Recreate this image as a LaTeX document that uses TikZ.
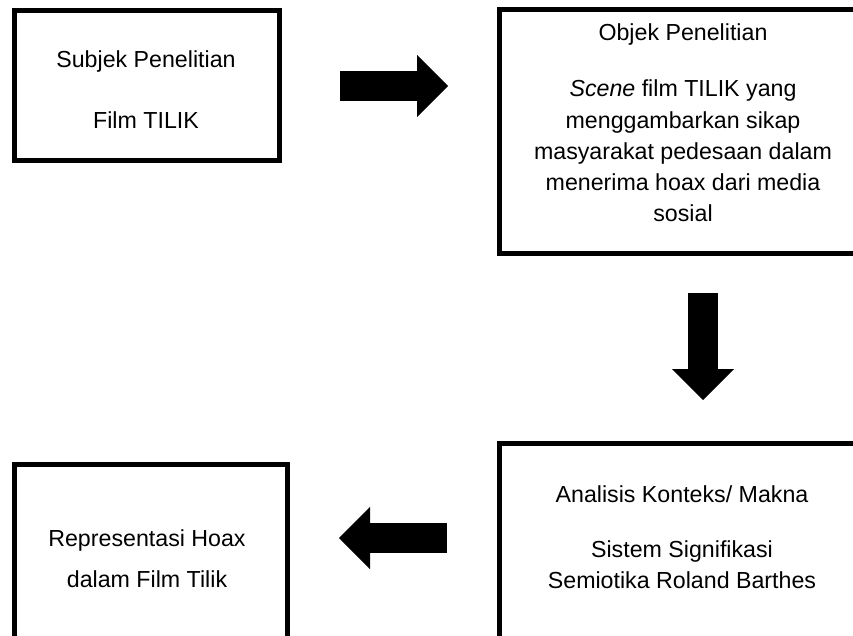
\documentclass[tikz,border=0pt]{standalone}
\usepackage{fontspec}
\setmainfont{Liberation Sans}
\usetikzlibrary{arrows.meta}
\begin{document}
\begin{tikzpicture}[x=1pt,y=-1pt,
  box/.style={draw=black, line width=5pt, rectangle, inner sep=0pt},
  txt/.style={font=\fontsize{23.2}{27}\selectfont, anchor=base, inner sep=0pt, text=black},
  blockarrow/.style={line width=30pt, -{Triangle[length=31pt,width=62pt,line width=0.1pt]}}]
\clip (0,0) rectangle (853,636);
\fill[white] (0,0) rectangle (853,636);
% boxes
\node[box, minimum width=265pt, minimum height=150pt] (b1) at (147,85.5) {};
\node[box, minimum width=367pt, minimum height=244pt] (b2) at (683,131.5) {};
\node[box, minimum width=367pt, minimum height=194.5pt] (b3) at (683,540.75) {};
\node[box, minimum width=273pt, minimum height=173.5pt] (b4) at (151,551.25) {};
% box 1 text
\node[txt] (t1a) at (146,68) {Subjek Penelitian};
\node[txt] (t1b) at (146,129) {Film TILIK};
% box 2 text
\node[txt] (t2a) at (683,41) {Objek Penelitian};
\node[txt] (t2b) at (683,97) {\textit{Scene} film TILIK yang};
\node[txt] (t2c) at (683,128.25) {menggambarkan sikap};
\node[txt] (t2d) at (683,159.5) {masyarakat pedesaan dalam};
\node[txt] (t2e) at (683,190.75) {menerima hoax dari media};
\node[txt] (t2f) at (683,222) {sosial};
% box 3 text
\node[txt] (t3a) at (682,502) {Analisis Konteks/ Makna};
\node[txt] (t3b) at (682,557) {Sistem Signifikasi};
\node[txt] (t3c) at (682,588) {Semiotika Roland Barthes};
% box 4 text
\node[txt] (t4a) at (147,546) {Representasi Hoax};
\node[txt] (t4b) at (147,587) {dalam Film Tilik};
% block arrows
\coordinate (a1s) at (340,86);
\coordinate (a1e) at (448,86);
\coordinate (a2s) at (703,293);
\coordinate (a2e) at (703,400);
\coordinate (a3s) at (447,538);
\coordinate (a3e) at (339,538);
\draw[blockarrow] (a1s) -- (a1e);
\draw[blockarrow] (a2s) -- (a2e);
\draw[blockarrow] (a3s) -- (a3e);
\end{tikzpicture}
\end{document}
